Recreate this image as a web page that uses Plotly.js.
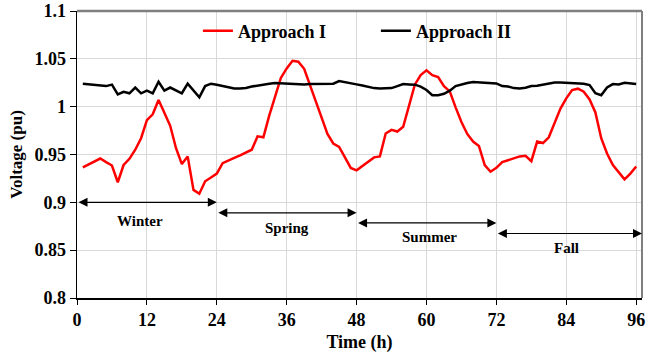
<!DOCTYPE html>
<html><head><meta charset="utf-8">
<script src="https://cdn.plot.ly/plotly-3.0.1.min.js"></script>
<style>html,body{margin:0;padding:0;background:#fff}#chart{width:649px;height:358px}</style>
</head><body><div id="chart"></div>
<script>
const hours = [1,2,3,4,5,6,7,8,9,10,11,12,13,14,15,16,17,18,19,20,21,22,23,24,
  25,26,27,28,29,30,31,32,33,34,35,36,37,38,39,40,41,42,43,44,45,46,47,48,
  49,50,51,52,53,54,55,56,57,58,59,60,61,62,63,64,65,66,67,68,69,70,71,72,
  73,74,75,76,77,78,79,80,81,82,83,84,85,86,87,88,89,90,91,92,93,94,95,96];

const approachI = [0.9365,0.9396,0.9427,0.9458,0.942,0.9385,0.921,0.939,0.9455,0.955,0.967,0.986,
  0.992,1.007,0.9937,0.980,0.9566,0.940,0.948,0.913,0.909,0.922,0.926,0.930,
  0.941,0.944,0.9465,0.949,0.952,0.955,0.969,0.968,0.9906,1.011,1.030,1.040,
  1.048,1.047,1.0396,1.0226,1.005,0.9885,0.9715,0.9615,0.958,0.947,0.936,0.9335,
  0.938,0.9427,0.947,0.948,0.972,0.9757,0.974,0.979,1.000,1.023,1.033,1.038,
  1.033,1.031,1.0215,1.016,0.9993,0.984,0.9715,0.9635,0.959,0.939,0.932,0.936,
  0.942,0.944,0.9465,0.948,0.9486,0.943,0.9635,0.962,0.968,0.984,0.998,1.0087,
  1.0174,1.0188,1.0156,1.0076,0.994,0.967,0.951,0.939,0.931,0.924,0.930,0.9375];

const approachII = [1.024,1.0233,1.0222,1.022,1.0215,1.023,1.0128,1.0156,1.014,1.020,1.014,1.0167,
  1.014,1.026,1.0167,1.020,1.017,1.014,1.024,1.017,1.0097,1.0215,1.024,1.023,
  1.0215,1.020,1.019,1.019,1.0195,1.021,1.0222,1.023,1.024,1.0247,1.0243,1.0243,
  1.0236,1.0233,1.0233,1.0236,1.0236,1.0236,1.0236,1.024,1.0267,1.0253,1.0245,1.0233,
  1.0222,1.0208,1.0194,1.019,1.019,1.0194,1.0215,1.0236,1.0233,1.023,1.021,1.0174,
  1.012,1.012,1.0135,1.0167,1.0215,1.0233,1.0247,1.0257,1.0253,1.0247,1.0243,1.0243,
  1.0215,1.021,1.0194,1.019,1.0198,1.0215,1.0219,1.023,1.0243,1.0253,1.0253,1.025,
  1.025,1.0247,1.024,1.0226,1.014,1.012,1.020,1.0236,1.0233,1.025,1.0243,1.0236];

const xTicks = [0,12,24,36,48,60,72,84,96];
const yTicks = [0.8,0.85,0.9,0.95,1.0,1.05,1.1];
const yTickText = ['0.8','0.85','0.9','0.95','1','1.05','1.1'];

const seasons = ['Winter','Spring','Summer','Fall'];
const seasonStart = [0,24,48,72];
const seasonEnd = [24,48,72,97];
const seasonArrowY = [0.9,0.889,0.8785,0.8674];
const seasonLabelX = [10.8,36.1,60.6,84.1];
const seasonLabelY = [0.881,0.8733,0.864,0.852];

const serif = 'Liberation Serif, Times New Roman, serif';

const traces = [
  {x: hours, y: approachI, name: 'Approach I', type: 'scatter', mode: 'lines',
   line: {color: '#ff0000', width: 2.5}},
  {x: hours, y: approachII, name: 'Approach II', type: 'scatter', mode: 'lines',
   line: {color: '#000000', width: 2.5}}
];

const annotations = [];
seasons.forEach((s, i) => {
  annotations.push({
    x: seasonEnd[i], y: seasonArrowY[i], xref: 'x', yref: 'y',
    ax: seasonStart[i], ay: seasonArrowY[i], axref: 'x', ayref: 'y',
    text: '', showarrow: true, arrowside: 'end+start', arrowhead: 2,
    arrowsize: 1.5, arrowwidth: 1.2, arrowcolor: '#000', standoff: 0, startstandoff: 0
  });
  annotations.push({
    x: seasonLabelX[i], y: seasonLabelY[i], xref: 'x', yref: 'y',
    text: s, showarrow: false,
    font: {family: serif, size: 15, color: '#000', weight: 'bold'}
  });
});

const axisCommon = {
  showgrid: true, gridcolor: '#d9d9d9', gridwidth: 1,
  showline: true, linecolor: '#000', linewidth: 1.5,
  ticks: 'outside', ticklen: 5, tickcolor: '#000', tickwidth: 1,
  zeroline: false,
  tickfont: {family: serif, size: 18, color: '#000', weight: 'bold'}
};

const layout = {
  width: 649, height: 358,
  margin: {l: 77, r: 7, t: 11, b: 60},
  paper_bgcolor: '#fff', plot_bgcolor: '#fff',
  showlegend: true,
  legend: {orientation: 'h', x: 0.214, xanchor: 'left', y: 0.995, yanchor: 'top',
    bgcolor: 'rgba(0,0,0,0)', borderwidth: 0, entrywidth: 133, entrywidthmode: 'pixels',
    font: {family: serif, size: 18, color: '#000', weight: 'bold'}},
  xaxis: Object.assign({}, axisCommon, {
    range: [0, 97], tickmode: 'array', tickvals: xTicks,
    title: {text: 'Time (h)', standoff: 6, font: {family: serif, size: 18, color: '#000', weight: 'bold'}}
  }),
  yaxis: Object.assign({}, axisCommon, {
    range: [0.8, 1.1], tickmode: 'array', tickvals: yTicks, ticktext: yTickText, ticklen: 6,
    title: {text: 'Voltage (pu)', standoff: 7, font: {family: serif, size: 17, color: '#000', weight: 'bold'}}
  }),
  shapes: [
    {type: 'line', xref: 'paper', yref: 'paper', x0: 0, x1: 1, y0: 1, y1: 1,
     line: {color: '#7f7f7f', width: 2.5}},
    {type: 'line', xref: 'paper', yref: 'paper', x0: 1, x1: 1, y0: 0, y1: 1,
     line: {color: '#7f7f7f', width: 2}}
  ],
  annotations: annotations
};

Plotly.newPlot('chart', traces, layout, {displayModeBar: false, staticPlot: true});
</script>
</body></html>
